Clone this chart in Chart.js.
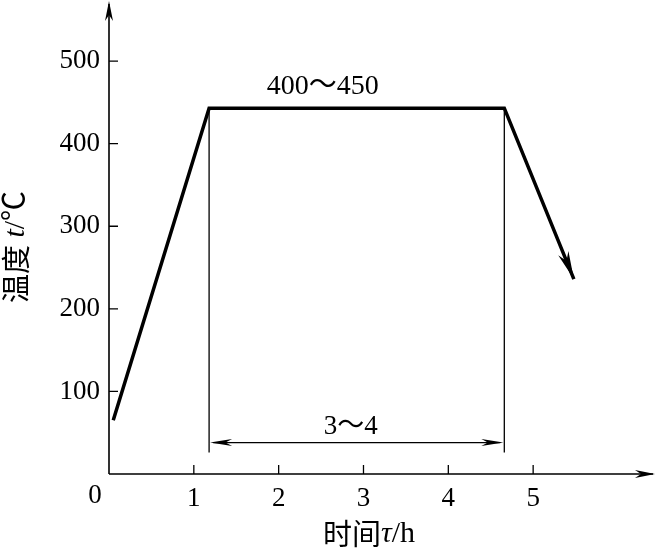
<!DOCTYPE html>
<html lang="zh-CN">
<head>
    <meta charset="UTF-8">
    <title>温度曲线</title>
    <script src="https://cdn.jsdelivr.net/npm/chart.js"></script>
    <style>
        body { margin: 0; background: #fff; }
        #wrap { width: 657px; height: 550px; }
    </style>
</head>
<body>
    <div id="wrap"><canvas id="c"></canvas></div>
    <script>
        // curve data
        const timeH = [0.05, 1.18, 4.66, 5.48];
        const tempC = [65, 443, 443, 236];
        const xTicks = [1, 2, 3, 4, 5];
        const yTicks = [100, 200, 300, 400, 500];
        // hold period marks
        const holdStart = 1.18;
        const holdEnd = 4.66;
        const holdTop = 443;
        const holdBottom = 26;
        const dimY = 38;
        const tempText = '400～450';
        const timeText = '3～4';

        const serif = "'Liberation Serif', 'Noto Sans CJK SC', serif";

        function arrow(ctx, x1, y1, x2, y2, len, half) {
            const a = Math.atan2(y2 - y1, x2 - x1);
            ctx.beginPath();
            ctx.moveTo(x2, y2);
            ctx.lineTo(x2 - len * Math.cos(a) + half * Math.sin(a), y2 - len * Math.sin(a) - half * Math.cos(a));
            ctx.lineTo(x2 - len * 0.7 * Math.cos(a), y2 - len * 0.7 * Math.sin(a));
            ctx.lineTo(x2 - len * Math.cos(a) - half * Math.sin(a), y2 - len * Math.sin(a) + half * Math.cos(a));
            ctx.closePath();
            ctx.fill();
        }

        const extras = {
            id: 'extras',
            afterDraw(chart) {
                const ctx = chart.ctx;
                const xs = chart.scales.x, ys = chart.scales.y;
                const a = chart.chartArea;
                ctx.save();
                ctx.strokeStyle = '#000';
                ctx.fillStyle = '#000';

                // axes
                ctx.lineWidth = 1.6;
                ctx.beginPath();
                ctx.moveTo(a.left, a.bottom);
                ctx.lineTo(a.right - 4, a.bottom);
                ctx.moveTo(a.left, a.bottom);
                ctx.lineTo(a.left, a.top + 4);
                ctx.stroke();
                arrow(ctx, a.left, a.bottom, a.right - 2, a.bottom, 20, 4);
                arrow(ctx, a.left, a.bottom, a.left, a.top + 1, 20, 4);

                // inward ticks
                ctx.lineWidth = 1.3;
                ctx.beginPath();
                xTicks.forEach(v => {
                    const px = xs.getPixelForValue(v);
                    ctx.moveTo(px, a.bottom);
                    ctx.lineTo(px, a.bottom - 9);
                });
                yTicks.forEach(v => {
                    const py = ys.getPixelForValue(v);
                    ctx.moveTo(a.left, py);
                    ctx.lineTo(a.left + 9, py);
                });
                ctx.stroke();

                // hold period extension lines + dimension line
                const x1 = xs.getPixelForValue(holdStart), x2 = xs.getPixelForValue(holdEnd);
                const yT = ys.getPixelForValue(holdTop), yB = ys.getPixelForValue(holdBottom);
                const yD = ys.getPixelForValue(dimY);
                ctx.lineWidth = 1.3;
                ctx.beginPath();
                ctx.moveTo(x1, yT); ctx.lineTo(x1, yB);
                ctx.moveTo(x2, yT); ctx.lineTo(x2, yB);
                ctx.moveTo(x1 + 4, yD); ctx.lineTo(x2 - 4, yD);
                ctx.stroke();
                arrow(ctx, x2, yD, x1 + 1, yD, 22, 3.5);
                arrow(ctx, x1, yD, x2 - 1, yD, 22, 3.5);

                // arrow on end of cooling line
                const n = timeH.length;
                const ex = xs.getPixelForValue(timeH[n - 1]), ey = ys.getPixelForValue(tempC[n - 1]);
                const px0 = xs.getPixelForValue(timeH[n - 2]), py0 = ys.getPixelForValue(tempC[n - 2]);
                arrow(ctx, px0, py0, ex, ey, 28, 5.5);

                // texts
                ctx.font = '28px ' + serif;
                ctx.textAlign = 'center';
                ctx.textBaseline = 'middle';
                ctx.fillText(tempText, xs.getPixelForValue(2.52), ys.getPixelForValue(469));
                ctx.font = '27px ' + serif;
                ctx.fillText(timeText, (x1 + x2) / 2 - 6, ys.getPixelForValue(57));
                ctx.fillText('0', a.left - 14, a.bottom + 22);

                // axis titles
                function mixed(parts, cx, cy) {
                    let w = 0;
                    parts.forEach(p => { ctx.font = p[1]; w += ctx.measureText(p[0]).width; });
                    let x = cx - w / 2;
                    ctx.textAlign = 'left';
                    parts.forEach(p => { ctx.font = p[1]; ctx.fillText(p[0], x, cy); x += ctx.measureText(p[0]).width; });
                }
                const cjk = "29px 'Noto Sans CJK SC', sans-serif";
                const it = "italic 30px " + serif;
                const rm = "30px " + serif;
                mixed([['时间', cjk], ['τ', it], ['/', rm], ['h', rm]], 369, 534);
                ctx.save();
                ctx.translate(16, 247);
                ctx.rotate(-Math.PI / 2);
                mixed([['温度', cjk], [' t', it], ['/℃', rm]], 0, 0);
                ctx.restore();

                ctx.restore();
            }
        };

        new Chart(document.getElementById('c'), {
            type: 'scatter',
            data: {
                datasets: [{
                    data: timeH.map((t, i) => ({ x: t, y: tempC[i] })),
                    showLine: true,
                    borderColor: '#000',
                    borderWidth: 3.5,
                    pointRadius: 0,
                    borderJoinStyle: 'miter'
                }]
            },
            options: {
                responsive: true,
                maintainAspectRatio: false,
                animation: false,
                layout: { padding: 0 },
                plugins: { legend: { display: false }, tooltip: { enabled: false } },
                scales: {
                    x: {
                        type: 'linear', min: 0, max: 6.46,
                        afterBuildTicks: s => { s.ticks = xTicks.map(v => ({ value: v })); },
                        afterFit: s => { s.height = 76; s.paddingLeft = 0; s.paddingRight = 0; },
                        grid: { display: false },
                        border: { display: false },
                        ticks: { color: '#000', padding: 1, font: { family: serif, size: 27 }, maxRotation: 0 }
                    },
                    y: {
                        type: 'linear', min: 0, max: 574,
                        afterBuildTicks: s => { s.ticks = yTicks.map(v => ({ value: v })); },
                        afterFit: s => { s.width = 109; s.paddingTop = 0; s.paddingBottom = 0; },
                        grid: { display: false },
                        border: { display: false },
                        ticks: { color: '#000', padding: 1, font: { family: serif, size: 27 } }
                    }
                }
            },
            plugins: [extras]
        });
    </script>
</body>
</html>
